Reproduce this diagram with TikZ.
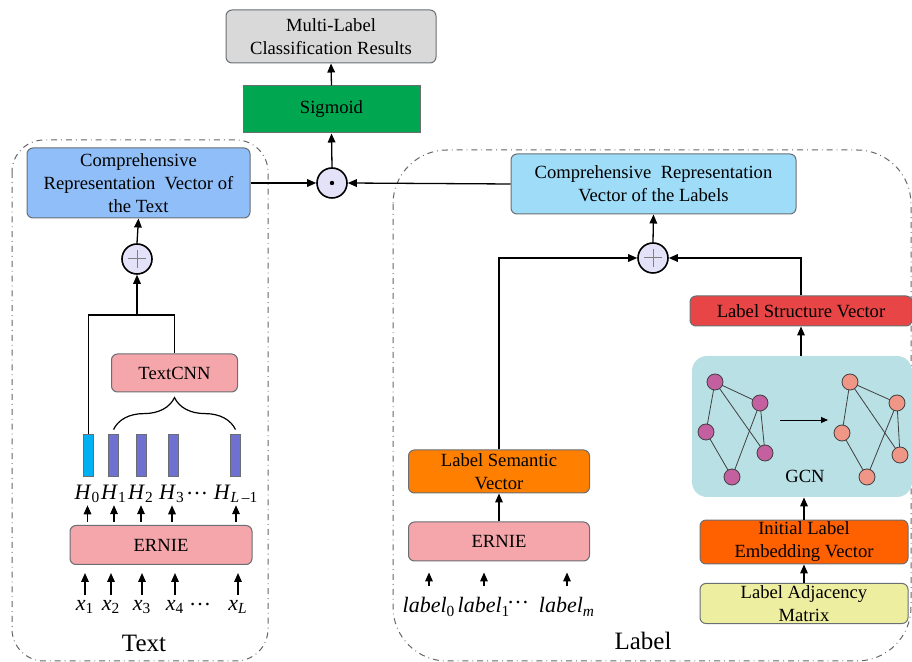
\documentclass[tikz,border=0pt]{standalone}
\usepackage{fontspec}
\setmainfont{Liberation Serif}
\usetikzlibrary{arrows.meta,decorations.pathreplacing,positioning}

\definecolor{boxgray}{RGB}{105,110,115}
\definecolor{resultgray}{RGB}{217,217,217}
\definecolor{sigmoidgreen}{RGB}{0,166,80}
\definecolor{textblue}{RGB}{143,190,248}
\definecolor{labelblue}{RGB}{158,220,248}
\definecolor{erniepink}{RGB}{245,166,170}
\definecolor{opfill}{RGB}{228,226,248}
\definecolor{hcyan}{RGB}{0,176,240}
\definecolor{hpurple}{RGB}{112,112,208}
\definecolor{structred}{RGB}{232,70,70}
\definecolor{gcnteal}{RGB}{185,224,228}
\definecolor{initorange}{RGB}{255,96,0}
\definecolor{adjyellow}{RGB}{238,238,160}
\definecolor{semorange}{RGB}{255,128,0}
\definecolor{gmauve}{RGB}{196,96,160}
\definecolor{gsalmon}{RGB}{240,150,135}

% italic symbol with upright index
\newcommand{\symb}[2]{\textit{#1}\textsubscript{#2}}

\tikzset{
  box/.style={draw=boxgray, line width=0.5pt, rounded corners=3pt, align=center,
    inner sep=1pt, font=\fontsize{9.3}{11.5}\selectfont},
  arr/.style={-{Triangle[length=4.5pt,width=3.8pt]}, line width=0.65pt},
  opnode/.style={circle, draw, line width=0.8pt, fill=opfill, minimum size=15pt, inner sep=0pt},
  bar/.style={draw=boxgray, line width=0.4pt, minimum width=5pt, minimum height=21pt, inner sep=0pt},
  token/.style={font=\fontsize{11}{13}\selectfont, inner sep=0.5pt},
  gnode/.style={circle, draw=darkgray, line width=0.4pt, minimum size=8pt, inner sep=0pt},
  gedge/.style={draw=darkgray, line width=0.4pt},
  region/.style={draw=gray!80!black, dash dot, line width=0.5pt},
}

\begin{document}
\begin{tikzpicture}[x=0.5pt,y=-0.5pt]
  \useasboundingbox (0,0) rectangle (912,662);

  % dash-dot regions
  \draw[region, rounded corners=16pt] (12,140) rectangle (268,661);
  \draw[region, rounded corners=27pt] (393,150) rectangle (911,661);

  % top part
  \node[box, fill=resultgray, minimum width=105pt, minimum height=26.5pt] (res) at (331,36.5)
    {Multi-Label\\Classification Results};
  \node[box, fill=sigmoidgreen, rounded corners=0pt, minimum width=88.5pt, minimum height=23.5pt] (sig) at (331.5,109.5) {Sigmoid};
  \node[opnode] (dotc) at (332,183) {};
  \fill (dotc.center) circle (1.1pt);

  % text branch
  \node[box, fill=textblue, minimum width=111.5pt, minimum height=35pt] (ctext) at (138.5,183)
    {Comprehensive\\Representation\ \ Vector of\\the Text};
  \node[opnode] (plusL) at (137,259) {};
  \draw[gray, line width=0.5pt] ([xshift=-4.5pt]plusL.center) -- ([xshift=4.5pt]plusL.center)
    ([yshift=-4.5pt]plusL.center) -- ([yshift=4.5pt]plusL.center);
  \node[box, fill=erniepink, minimum width=63pt, minimum height=19pt] (cnn) at (174.5,373) {TextCNN};

  \node[bar, fill=hcyan] (h0) at (88.5,455) {};
  \foreach \n/\x in {1/113.5,2/141,3/173.5,L/235.5}
    \node[bar, fill=hpurple] (h\n) at (\x,455) {};

  \node[token] (h0lab) at (87.5,494) {\symb{H}{0}};
  \node[token] (h1lab) at (114,494) {\symb{H}{1}};
  \node[token] (h2lab) at (141,494) {\symb{H}{2}};
  \node[token] (h3lab) at (172,494) {\symb{H}{3}};
  \node[token] (hdots) at (197,494) {\dots};
  \node[token] (hLlab) at (236,494) {\symb{H}{\textit{L}\,–1}};

  \node[box, fill=erniepink, minimum width=91pt, minimum height=19.5pt] (ernieL) at (161,545) {ERNIE};

  \node[token] (x1) at (85,607) {\symb{x}{1}};
  \node[token] (x2) at (111,607) {\symb{x}{2}};
  \node[token] (x3) at (142,607) {\symb{x}{3}};
  \node[token] (x4) at (175,607) {\symb{x}{4}};
  \node[token] (xdots) at (200,605) {\dots};
  \node[token] (xL) at (238,607) {\symb{x}{\textit{L}}};

  \node[font=\fontsize{12.5}{15}\selectfont] (textlab) at (144,643) {Text};

  % label branch
  \node[box, fill=labelblue, minimum width=142.5pt, minimum height=30pt] (clab) at (653.5,184)
    {Comprehensive\ \ Representation\\Vector of the Labels};
  \node[opnode] (plusR) at (653,258) {};
  \draw[gray, line width=0.5pt] ([xshift=-4.5pt]plusR.center) -- ([xshift=4.5pt]plusR.center)
    ([yshift=-4.5pt]plusR.center) -- ([yshift=4.5pt]plusR.center);

  \node[box, fill=semorange, minimum width=90.5pt, minimum height=21.5pt] (sem) at (499,471.5)
    {Label Semantic\\Vector};
  \node[box, fill=erniepink, minimum width=90.5pt, minimum height=19.5pt] (ernieR) at (499,541.5) {ERNIE};

  \node[token] (l0) at (429,607) {\symb{label}{0}};
  \node[token] (l1) at (484,607) {\symb{label}{1}};
  \node[token] (ldots) at (518,603) {\dots};
  \node[token] (lm) at (567,607) {\symb{label}{\textit{m}}};

  \node[box, fill=structred, minimum width=111pt, minimum height=15pt] (struct) at (801,311)
    {Label Structure Vector};
  \node[fill=gcnteal, rounded corners=7.5pt, minimum width=110pt, minimum height=70.5pt] (gcn) at (802,426.5) {};
  \node[font=\fontsize{9.3}{11}\selectfont] (gcnlab) at (805,476) {GCN};
  \node[box, fill=initorange, minimum width=104pt, minimum height=21pt] (init) at (804,542)
    {Initial Label\\Embedding Vector};
  \node[box, fill=adjyellow, minimum width=104pt, minimum height=19.5pt] (adj) at (804,603.5)
    {Label Adjacency\\Matrix};

  \node[font=\fontsize{12.5}{15}\selectfont] (labellab) at (643,641) {Label};

  % graphs inside GCN (edges first, nodes on top)
  \foreach \n/\x/\y in {1/715/382,2/760/403,3/706/432,4/765/453,5/732/477}
    \coordinate (pa\n) at (\x,\y);
  \foreach \n/\x/\y in {1/850/382,2/897/403,3/842/433,4/900/455,5/867/477}
    \coordinate (pb\n) at (\x,\y);
  \foreach \u/\v in {1/2,1/3,1/4,2/5,2/4,3/5} {
    \draw[gedge] (pa\u) -- (pa\v);
    \draw[gedge] (pb\u) -- (pb\v);
  }
  \foreach \n in {1,...,5} {
    \node[gnode, fill=gmauve] (a\n) at (pa\n) {};
    \node[gnode, fill=gsalmon] (b\n) at (pb\n) {};
  }
  \coordinate (gA) at (780,420);
  \coordinate (gB) at (828,420);
  \draw[-{Triangle[length=3.5pt,width=3pt]}, line width=0.45pt] (gA) -- (gB);

  % connectors, top
  \draw[arr] (dotc.north) -- (sig.south);
  \draw[arr] (sig.north) -- (res.south);
  \draw[arr] (ctext.east) -- (dotc.west);
  \draw[arr] (clab.west) -- (dotc.east);

  % connectors, text branch
  \draw[arr] (plusL.north) -- (ctext.south);
  \coordinate (jL) at (137,315);
  \draw[arr] (jL) -- (plusL.south);
  \draw[line width=0.6pt] (h0.north) |- (jL) -| (cnn.north);
  \draw[decorate, decoration={brace, amplitude=16pt}, line width=0.6pt]
    ([yshift=2pt]h1.north) -- ([yshift=2pt]hL.north);
  \foreach \t in {h0lab,h1lab,h2lab,h3lab,hLlab}
    \draw[arr, shorten <=1.5pt, shorten >=0.5pt] (\t.south |- ernieL.north) -- (\t.south);
  \foreach \t in {x1,x2,x3,x4,xL}
    \draw[arr, shorten <=2pt, shorten >=4pt] (\t.north) -- (\t.north |- ernieL.south);

  % connectors, label branch
  \draw[arr] (plusR.north) -- (clab.south);
  \draw[arr] (sem.north) |- (plusR.west);
  \draw[arr] (struct.north) |- (plusR.east);
  \draw[arr] (ernieR.north) -- (sem.south);
  \foreach \t in {l0,l1,lm}
    \draw[arr, shorten <=5pt, shorten >=5.5pt] (\t.north) -- (\t.north |- ernieR.south);
  \draw[arr] (gcn.north -| struct.south) -- (struct.south);
  \draw[arr] (init.north) -- (init.north |- gcn.south);
  \draw[arr] (adj.north) -- (init.south);
\end{tikzpicture}
\end{document}
